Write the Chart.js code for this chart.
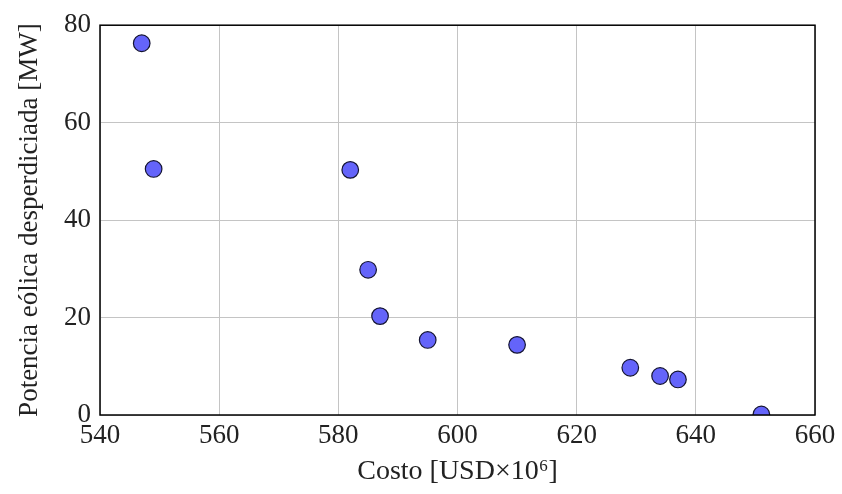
<!DOCTYPE html>
<html>
<head>
<meta charset="utf-8">
<script src="https://cdn.jsdelivr.net/npm/chart.js@4"></script>
<style>
  html, body { margin: 0; padding: 0; background: #fff; }
  #wrap { width: 842px; height: 494px; }
</style>
</head>
<body>
<div id="wrap"><canvas id="chart" width="842" height="494"></canvas></div>
<script>
// 数据：成本 vs 弃风功率
const costo = [547, 549, 582, 585, 587, 595, 610, 629, 634, 637, 651];
const potencia = [76.3, 50.5, 50.3, 29.8, 20.3, 15.4, 14.4, 9.7, 8.0, 7.3, 0.1];
const xTicks = [540, 560, 580, 600, 620, 640, 660];
const yTicks = [0, 20, 40, 60, 80];

const serif = "'Liberation Serif', 'DejaVu Serif', serif";

// 图表边框
const borderPlugin = {
  id: 'frame',
  afterDraw(chart) {
    const { ctx, chartArea: a } = chart;
    ctx.save();
    ctx.strokeStyle = '#000';
    ctx.lineWidth = 1.5;
    ctx.strokeRect(a.left, a.top, a.right - a.left, a.bottom - a.top);
    ctx.restore();
  }
};

new Chart(document.getElementById('chart').getContext('2d'), {
  type: 'scatter',
  data: {
    datasets: [{
      data: costo.map((x, i) => ({ x: x, y: potencia[i] })),
      backgroundColor: 'rgb(100, 100, 250)',
      borderColor: 'rgb(20, 20, 50)',
      borderWidth: 1.2,
      pointRadius: 8.3,
      pointHoverRadius: 8.3
    }]
  },
  options: {
    responsive: false,
    animation: false,
    layout: { padding: { top: 23, right: 27, left: 0, bottom: 0 } },
    plugins: { legend: { display: false }, tooltip: { enabled: false } },
    scales: {
      x: {
        type: 'linear',
        min: 540,
        max: 660,
        afterBuildTicks: s => { s.ticks = xTicks.map(v => ({ value: v })); },
        afterFit: s => { s.height = 79; },
        grid: { color: '#c4c4c4', lineWidth: 1, drawTicks: false },
        border: { display: false },
        ticks: { color: '#222', font: { family: serif, size: 27 }, padding: 5, maxRotation: 0 },
        title: { display: true, text: 'Costo [USD×10⁶]', color: '#222', font: { family: serif, size: 28 }, padding: { top: 0, bottom: 6 } }
      },
      y: {
        type: 'linear',
        min: 0,
        max: 80,
        afterBuildTicks: s => { s.ticks = yTicks.map(v => ({ value: v })); },
        afterFit: s => { s.width = 100; },
        grid: { color: '#c4c4c4', lineWidth: 1, drawTicks: false },
        border: { display: false },
        ticks: { color: '#222', font: { family: serif, size: 27 }, padding: 9 },
        title: { display: true, text: 'Potencia eólica desperdiciada [MW]', color: '#222', font: { family: serif, size: 27 }, padding: { top: 14, bottom: 0 } }
      }
    }
  },
  plugins: [borderPlugin]
});
</script>
</body>
</html>
